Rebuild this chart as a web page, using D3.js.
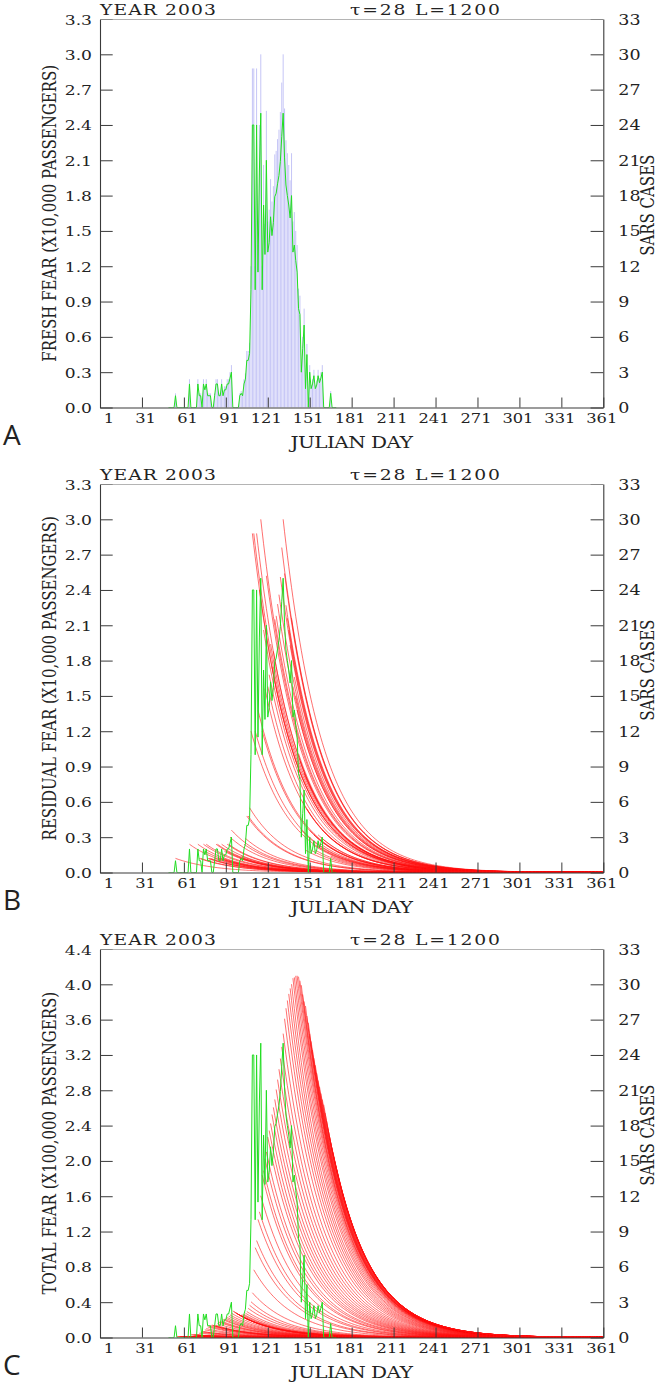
<!DOCTYPE html>
<html><head><meta charset="utf-8">
<script src="https://cdn.jsdelivr.net/npm/d3@7"></script>
<style>body{margin:0;background:#fff}</style>
</head><body><svg id="c" width="665" height="1382"></svg>
<script>
// ---------- data ----------
const days = d3.range(50, 171);
// SARS cases per day, days 50..170 (right axis)
const sarsCases = [
 0,0,0,0,0,1,0,0,0,0,
 0,0,0,0,0,2,0,0,0,0,
 0,2,1,1,0,2,1.5,2,1,1,
 1,0,0,1,2,2,1,1,2,1,
 1.5,1.5,2,2,2.5,3,0,0,0,0,
 0,1,1.2,1,2,2.4,4,4,4.6,10,
 24,24,10,24,11.5,20,25,10,17.2,13,
 21,13.2,14,16.2,14.6,15.7,17.9,18.2,19,19.7,
 20.9,23,25,21.2,18.9,18,17.2,16.1,18,13.2,
 13.8,12.5,11.5,8.4,7.9,3,5,7,1.6,4.5,
 0,3,1.6,2,2.7,1.6,1.9,2.7,2.1,2.5,
 3,0,0,0,0,0,1.2,0,0,0,0
];
// fresh fear per day (x10,000 passengers)
const freshFear = [
 0,0,0,0,0,0.12,0,0,0,0,
 0,0,0,0,0,0.24,0,0,0,0,
 0,0.24,0.12,0.12,0,0.24,0.18,0.24,0.12,0.12,
 0.12,0,0,0.12,0.24,0.24,0.12,0.12,0.24,0.12,
 0.18,0.18,0.24,0.24,0.30,0.36,0,0,0,0,
 0,0.12,0.14,0.12,0.24,0.29,0.48,0.48,0.55,1.20,
 2.88,2.88,1.20,2.88,1.38,2.40,3.00,1.20,2.06,1.56,
 2.52,1.58,1.68,1.94,1.75,1.88,2.15,2.18,2.28,2.36,
 2.51,2.76,3.00,2.54,2.27,2.16,2.06,1.93,2.16,1.58,
 1.66,1.50,1.38,1.01,0.95,0.36,0.60,0.84,0.19,0.54,
 0,0.36,0.19,0.24,0.32,0.19,0.23,0.32,0.25,0.30,
 0.36,0,0,0,0,0,0.14,0,0,0,0
];
const tau = 28;            // decay time from the title
const xTicks = [1,31,61,91,121,151,181,211,241,271,301,331,361];
const fearTicks = [0,0.3,0.6,0.9,1.2,1.5,1.8,2.1,2.4,2.7,3.0,3.3];
const totalTicks = [0,0.4,0.8,1.2,1.6,2.0,2.4,2.8,3.2,3.6,4.0,4.4];
const caseTicks = [0,3,6,9,12,15,18,21,24,27,30,33];
const panelLetters = ['A','B','C'];
const yTitles = ['FRESH FEAR (X10,000 PASSENGERS)','RESIDUAL FEAR (X10,000 PASSENGERS)','TOTAL FEAR (X100,000 PASSENGERS)'];
const yMaxes = [3.3,3.3,4.4];
const yTickSets = [fearTicks,fearTicks,totalTicks];

// ---------- layout ----------
const svg = d3.select('#c');
const X0 = 100, X1 = 603.3, PH = 388.5, TOP0 = 19, DYP = 465;
const SX = 1.25;
const FONT = "'DejaVu Serif', serif";
const x = d3.scaleLinear().domain([1,361]).range([X0,X1]);

function txt(g, s, px, py, o) {
  o = o || {};
  const t = g.append('text')
    .attr('transform', `translate(${px},${py}) scale(${SX},1)` + (o.rot ? ' rotate(-90)' : ''))
    .attr('font-family', o.family || FONT)
    .attr('font-size', o.size || 14)
    .attr('text-anchor', o.anchor || 'start')
    .attr('fill', o.fill || '#222')
    .text(s);
  if (o.len) t.attr('textLength', o.len).attr('lengthAdjust', 'spacing');
  return t;
}

panelLetters.forEach((letter, pi) => {
  const top = TOP0 + pi*DYP, bottom = top + PH;
  const g = svg.append('g');
  const y = d3.scaleLinear().domain([0, yMaxes[pi]]).range([bottom, top]);
  const yc = d3.scaleLinear().domain([0, 33]).range([bottom, top]);
  const clipId = 'clip' + pi;
  svg.append('clipPath').attr('id', clipId).append('rect')
    .attr('x', X0).attr('y', top).attr('width', X1 - X0).attr('height', PH);
  const data = g.append('g').attr('clip-path', `url(#${clipId})`);
  const line = d3.line().x(p => x(p[0])).y(p => y(p[1]));
  const redStyle = sel => sel.attr('fill','none').attr('stroke','#ff1010')
      .attr('stroke-width',0.75).attr('stroke-opacity',0.8);

  if (pi === 0) {
    data.selectAll('rect.bar').data(days.map((d,i)=>[d,freshFear[i]]).filter(p=>p[1]>0))
      .join('rect').attr('class','bar')
      .attr('x', p => x(p[0]-0.5)+0.2).attr('width', (x(2)-x(1))*0.72)
      .attr('y', p => y(p[1])).attr('height', p => bottom - y(p[1]))
      .attr('fill', '#c6c6f6');
  } else if (pi === 1) {
    const curves = [];
    days.forEach((d,i) => {
      if (freshFear[i] <= 0) return;
      curves.push(d3.range(d, 362).map(t => [t, freshFear[i]*Math.exp(-(t-d)/tau)]));
    });
    data.selectAll('path.res').data(curves).join('path').attr('class','res')
      .attr('d', line).call(redStyle);
  } else {
    // total fear = sum of residual fear left from all earlier days (x100,000)
    const curves = [];
    days.forEach((d,k) => {
      let T = 0;
      for (let i=0;i<k;i++) T += freshFear[i]*Math.exp(-(d-days[i])/tau);
      T = T/10;
      if (T <= 0.0005) return;
      curves.push(d3.range(d, 362).map(t => [t, T*Math.exp(-(t-d)/tau)]));
    });
    data.selectAll('path.tot').data(curves).join('path').attr('class','tot')
      .attr('d', line).call(redStyle);
  }
  // SARS cases (green)
  data.append('path').datum(days.map((d,i)=>[d,sarsCases[i]]))
    .attr('d', d3.line().x(p=>x(p[0])).y(p=>yc(p[1])))
    .attr('fill','none').attr('stroke','#22dd22').attr('stroke-width',1);

  // frame: top line light gray
  g.append('line').attr('x1',X0).attr('x2',X1).attr('y1',top+0.5).attr('y2',top+0.5)
    .attr('stroke','#b4b4b4').attr('stroke-width',1);

  const la = g.append('g').attr('transform',`translate(${X0},0)`)
    .call(d3.axisLeft(y).tickValues(yTickSets[pi]).tickSize(-12.7).tickSizeOuter(0).tickFormat(d3.format('.1f')));
  const ra = g.append('g').attr('transform',`translate(${X1},0)`)
    .call(d3.axisRight(yc).tickValues(caseTicks).tickSize(-12.7).tickSizeOuter(0).tickFormat(d3.format('d')));
  const ba = g.append('g').attr('transform',`translate(0,${bottom})`)
    .call(d3.axisBottom(x).tickValues(xTicks).tickSize(-10).tickSizeOuter(0).tickFormat(d3.format('d')));

  [la,ra,ba].forEach(a => {
    a.select('.domain').attr('stroke','#3a3a3a').attr('stroke-width',1.1);
    a.selectAll('.tick line').attr('stroke','#3a3a3a').attr('stroke-width',1);
    a.selectAll('text').attr('font-family',FONT).attr('fill','#222')
      .attr('x',0).attr('y',0).attr('dy',null);
  });
  la.selectAll('.tick').filter(d=>d===yMaxes[pi]).select('line').attr('stroke','#8a8a8a');
  ra.selectAll('.tick').filter(d=>d===33).select('line').attr('stroke','#8a8a8a');
  la.selectAll('text').attr('font-size',13.7).attr('text-anchor','end')
    .attr('transform',`translate(-8,5) scale(${SX},1)`);
  ra.selectAll('text').attr('font-size',14).attr('text-anchor','start')
    .attr('transform',`translate(15,5) scale(${SX},1)`);
  ba.selectAll('text').attr('font-size',13).attr('text-anchor','end')
    .attr('transform',`translate(13.5,15.2) scale(${SX},1)`);

  // titles
  txt(g, 'YEAR 2003', X0, top - 4, {size:15, len:92.8});
  txt(g, '\u03c4=28 L=1200', 350, top - 4, {size:15, len:120});
  txt(g, 'JULIAN DAY', (X0+X1)/2, bottom + 40.5, {size:16, anchor:'middle', len:98});
  txt(g, yTitles[pi], 56, (top+bottom)/2, {size:15, anchor:'middle', rot:true});
  txt(g, 'SARS CASES', 654, (top+bottom)/2 - 8, {size:15, anchor:'middle', rot:true});
  // panel letter
  g.append('text').attr('x',3).attr('y',bottom+37.5)
    .attr('font-family',"'Open Sans', sans-serif").attr('font-size',28)
    .attr('fill','#222').text(letter);
});
</script>
</body></html>
